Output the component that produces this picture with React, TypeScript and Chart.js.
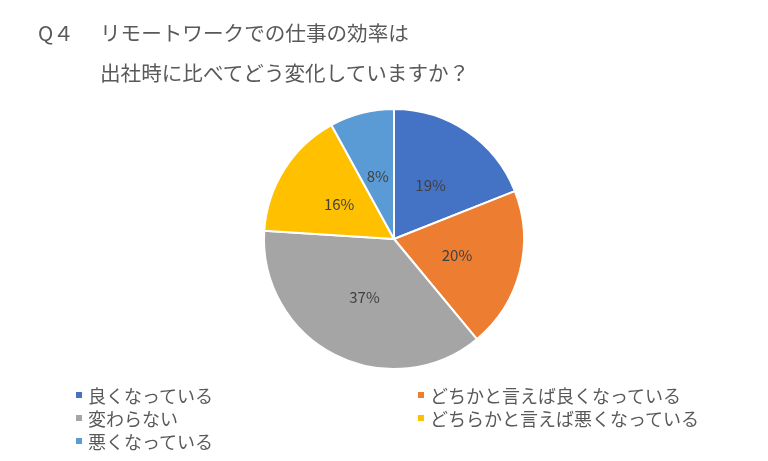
import React, { useEffect, useRef } from "react";
import { Chart, registerables } from "chart.js";

Chart.register(...registerables);

const categories = [
  "良くなっている",
  "どちかと言えば良くなっている",
  "変わらない",
  "どちらかと言えば悪くなっている",
  "悪くなっている",
];
const values = [19, 20, 37, 16, 8];
const colors = ["#4472C4", "#ED7D31", "#A5A5A5", "#FFC000", "#5B9BD5"];
const titleQ = "Q４";
const titleLine1 = "リモートワークでの仕事の効率は";
const titleLine2 = "出社時に比べてどう変化していますか？";

const FONT = '"Noto Sans CJK JP", "Noto Sans", sans-serif';

const labelPlugin = {
  id: "sliceLabels",
  afterDatasetsDraw(chart: any) {
    const ctx = chart.ctx;
    const meta = chart.getDatasetMeta(0);
    ctx.save();
    ctx.fillStyle = "#404040";
    ctx.font = `15px ${FONT}`;
    ctx.textAlign = "center";
    ctx.textBaseline = "middle";
    meta.data.forEach((arc: any, i: number) => {
      const p = arc.tooltipPosition();
      ctx.fillText(`${values[i]}%`, p.x, p.y);
    });
    ctx.restore();
  },
};

export default function App() {
  const ref = useRef<HTMLCanvasElement | null>(null);
  useEffect(() => {
    if (!ref.current) return;
    const chart = new Chart(ref.current, {
      type: "pie",
      data: {
        labels: categories,
        datasets: [
          {
            data: values,
            backgroundColor: colors,
            borderColor: "#ffffff",
            borderWidth: 2,
          },
        ],
      },
      options: {
        responsive: false,
        animation: false,
        devicePixelRatio: 1,
        layout: { padding: { left: 263, right: 243, top: 108, bottom: 91 } },
        plugins: {
          legend: { display: false },
          tooltip: { enabled: false },
          title: { display: false },
        },
      },
      plugins: [labelPlugin],
    });
    return () => chart.destroy();
  }, []);

  const legendPos = [
    { left: 76, top: 395 },
    { left: 418, top: 395 },
    { left: 76, top: 418 },
    { left: 418, top: 418 },
    { left: 76, top: 441 },
  ];

  const titleStyle: React.CSSProperties = {
    position: "absolute",
    fontSize: 20.6,
    lineHeight: "0px",
    whiteSpace: "nowrap",
  };

  return (
    <div
      style={{
        position: "fixed",
        left: 0,
        top: 0,
        width: 768,
        height: 461,
        background: "#ffffff",
        fontFamily: FONT,
        color: "#595959",
        overflow: "hidden",
      }}
    >
      <canvas ref={ref} width={768} height={461} style={{ position: "absolute", left: 0, top: 0 }} />
      <div style={{ ...titleStyle, left: 38, top: 32 }}>{titleQ}</div>
      <div style={{ ...titleStyle, left: 100, top: 32 }}>{titleLine1}</div>
      <div style={{ ...titleStyle, left: 100, top: 72 }}>{titleLine2}</div>
      {categories.map((c, i) => (
        <div
          key={c}
          style={{
            position: "absolute",
            left: legendPos[i].left,
            top: legendPos[i].top,
            height: 0,
            display: "flex",
            alignItems: "center",
            whiteSpace: "nowrap",
          }}
        >
          <span style={{ display: "inline-block", width: 6, height: 6, background: colors[i], marginRight: 6 }} />
          <span style={{ fontSize: 18, lineHeight: "0px" }}>{c}</span>
        </div>
      ))}
    </div>
  );
}
